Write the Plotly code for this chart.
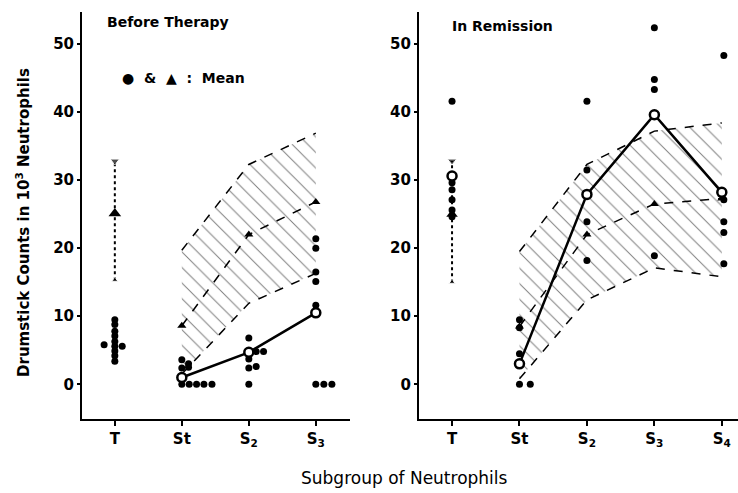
import plotly.graph_objects as go

# ---------------- data ----------------
cats_before = ["T", "St", "S<sub>2</sub>", "S<sub>3</sub>"]
cats_remission = ["T", "St", "S<sub>2</sub>", "S<sub>3</sub>", "S<sub>4</sub>"]

# Before therapy: individual counts (group index, horizontal offset, value)
before_grp = [0, 0, 0, 0, 0, 0, 0, 0, 0, 0, 0,
              1, 1, 1, 1, 1, 1, 1, 1, 1,
              2, 2, 2, 2, 2, 2, 2,
              3, 3, 3, 3, 3, 3, 3, 3]
before_dx = [0, 0, 0, 0, 0, 0, 0, 0, 0, -0.16, 0.11,
             0, 0.1, 0, 0.1, 0, 0.11, 0.22, 0.33, 0.45,
             0, 0.11, 0.22, 0, 0, 0.11, 0,
             0, 0, 0, 0, 0, 0, 0.12, 0.24]
before_val = [9.5, 8.8, 7.8, 7.1, 6.3, 5.6, 4.9, 4.2, 3.4, 5.8, 5.6,
              3.6, 3.0, 2.4, 2.5, 0, 0, 0, 0, 0,
              6.8, 4.8, 4.8, 3.7, 2.4, 2.6, 0,
              21.4, 20.0, 16.5, 15.1, 11.6, 0, 0, 0]
before_T_range = [15.3, 32.8]
before_T_mean = 25.1
before_mean = [None, 1.0, 4.7, 10.5]
before_lower = [None, 1.5, 11.9, 16.3]
before_middle = [None, 8.6, 22.0, 26.8]
before_upper = [None, 19.7, 32.3, 36.9]

# In remission
rem_grp = [0, 0, 0, 0, 0, 0,
           1, 1, 1, 1, 1,
           2, 2, 2, 2,
           3, 3, 3, 3,
           4, 4, 4, 4, 4]
rem_dx = [0, 0, 0, 0, 0, 0,
          0, 0, 0, 0, 0.16,
          0, 0, 0, 0,
          0, 0, 0, 0,
          0.03, 0.03, 0.03, 0.03, 0.03]
rem_val = [41.6, 29.6, 28.6, 27.1, 25.6, 24.6,
           9.5, 8.3, 4.5, 0, 0,
           41.6, 31.5, 23.9, 18.2,
           52.4, 44.8, 43.3, 18.9,
           48.3, 27.1, 23.9, 22.3, 17.7]
rem_T_range = [15.0, 32.8]
rem_T_circle = 30.6
rem_T_tri = 25.0
rem_mean = [None, 3.0, 27.9, 39.6, 28.2]
rem_lower = [None, 0.8, 12.4, 17.1, 15.8]
rem_middle = [None, 8.5, 22.0, 26.5, 27.3]
rem_upper = [None, 19.5, 32.3, 37.2, 38.4]

y_ticks = [0, 10, 20, 30, 40, 50]

# ---------------- figure ----------------
fig = go.Figure()
FONT = "DejaVu Sans"


def valid(vals):
    xs = [i for i, v in enumerate(vals) if v is not None]
    ys = [v for v in vals if v is not None]
    return xs, ys


def add_panel(xa, ya, grp, dx, val, T_range, lower, middle, upper, mean):
    # hatched band
    lx, ly = valid(lower)
    ux, uy = valid(upper)
    fig.add_trace(go.Scatter(x=lx, y=ly, mode="lines", xaxis=xa, yaxis=ya,
                             line=dict(color="black", width=1.5, dash="dash"),
                             showlegend=False, hoverinfo="skip"))
    fig.add_trace(go.Scatter(x=ux, y=uy, mode="lines", xaxis=xa, yaxis=ya,
                             fill="tonexty", fillcolor="rgba(0,0,0,0)",
                             fillpattern=dict(shape="\\", fgcolor="black", bgcolor="white",
                                              size=11, solidity=0.09),
                             line=dict(color="black", width=1.5, dash="dash"),
                             showlegend=False, hoverinfo="skip"))
    mx, my = valid(middle)
    fig.add_trace(go.Scatter(x=mx, y=my, mode="lines+markers", xaxis=xa, yaxis=ya,
                             line=dict(color="black", width=1.5, dash="dash"),
                             marker=dict(symbol="triangle-up", size=8, color="black"),
                             showlegend=False))
    # T range bar
    fig.add_trace(go.Scatter(x=[0, 0], y=T_range, mode="lines+markers", xaxis=xa, yaxis=ya,
                             line=dict(color="black", width=2, dash="dot"),
                             marker=dict(symbol=["triangle-up", "triangle-down"], size=[6, 8],
                                         color="black"),
                             showlegend=False))
    # individual dots
    fig.add_trace(go.Scatter(x=[g + d for g, d in zip(grp, dx)], y=val, mode="markers",
                             xaxis=xa, yaxis=ya,
                             marker=dict(symbol="circle", size=7, color="black"),
                             showlegend=False))
    # mean line
    ex, ey = valid(mean)
    fig.add_trace(go.Scatter(x=ex, y=ey, mode="lines+markers", xaxis=xa, yaxis=ya,
                             line=dict(color="black", width=2.5),
                             marker=dict(symbol="circle", size=9, color="white",
                                         line=dict(color="black", width=2.5)),
                             showlegend=False))


add_panel("x", "y", before_grp, before_dx, before_val, before_T_range,
          before_lower, before_middle, before_upper, before_mean)
fig.add_trace(go.Scatter(x=[0], y=[before_T_mean], mode="markers", xaxis="x", yaxis="y",
                         marker=dict(symbol="triangle-up", size=11, color="black"),
                         showlegend=False))

add_panel("x2", "y2", rem_grp, rem_dx, rem_val, rem_T_range,
          rem_lower, rem_middle, rem_upper, rem_mean)
fig.add_trace(go.Scatter(x=[0], y=[rem_T_tri], mode="markers", xaxis="x2", yaxis="y2",
                         marker=dict(symbol="triangle-up", size=10, color="black"),
                         showlegend=False))
fig.add_trace(go.Scatter(x=[0], y=[rem_T_circle], mode="markers", xaxis="x2", yaxis="y2",
                         marker=dict(symbol="circle", size=9, color="white",
                                     line=dict(color="black", width=2.5)),
                         showlegend=False))

axis_common = dict(showline=True, linecolor="black", linewidth=2, showgrid=False,
                   zeroline=False, ticks="outside", tickcolor="black", tickwidth=2,
                   mirror=False)
tickfont = dict(family=FONT, size=15, color="black", weight="bold")

fig.update_layout(
    width=738, height=493,
    margin=dict(l=82, r=0, t=12, b=74),
    paper_bgcolor="white", plot_bgcolor="white",
    xaxis=dict(domain=[0, 0.4085], range=[-0.49, 3.51], tickvals=list(range(len(cats_before))),
               ticktext=cats_before, ticklen=5, tickfont=tickfont, anchor="y", **axis_common),
    yaxis=dict(range=[-5.1, 54.7], tickvals=y_ticks, ticklen=3, tickfont=tickfont,
               anchor="x", **axis_common),
    xaxis2=dict(domain=[0.5137, 1], range=[-0.49, 4.24],
                tickvals=list(range(len(cats_remission))), ticktext=cats_remission,
                ticklen=5, tickfont=tickfont, anchor="y2", **axis_common),
    yaxis2=dict(range=[-5.1, 54.7], tickvals=y_ticks, ticklen=3, tickfont=tickfont,
                anchor="x2", **axis_common),
    annotations=[
        dict(text="<b>Before Therapy</b>", xref="x", yref="y", x=-0.15, y=53.2,
             xanchor="left", yanchor="middle", showarrow=False,
             font=dict(family=FONT, size=14, color="black")),
        dict(text="<b>In Remission</b>", xref="x2", yref="y2", x=-0.03, y=52.6,
             xanchor="left", yanchor="middle", showarrow=False,
             font=dict(family=FONT, size=14, color="black")),
        dict(text="<b>●  &amp;  ▲  :  Mean</b>", xref="x", yref="y", x=0.07, y=45,
             xanchor="left", yanchor="middle", showarrow=False,
             font=dict(family=FONT, size=14, color="black")),
        dict(text="<b>Drumstick Counts in 10<sup>3</sup> Neutrophils</b>", xref="paper",
             yref="paper", x=-0.09, y=0.484, textangle=-90, showarrow=False,
             xanchor="center", yanchor="middle",
             font=dict(family=FONT, size=15, color="black")),
        dict(text="Subgroup of Neutrophils", xref="paper", yref="paper", x=0.492, y=-0.145,
             showarrow=False, xanchor="center", yanchor="middle",
             font=dict(family=FONT, size=17, color="black")),
    ],
)

fig.write_html("out.html", config={"displayModeBar": False},
               post_script="document.body.style.margin='0';")
